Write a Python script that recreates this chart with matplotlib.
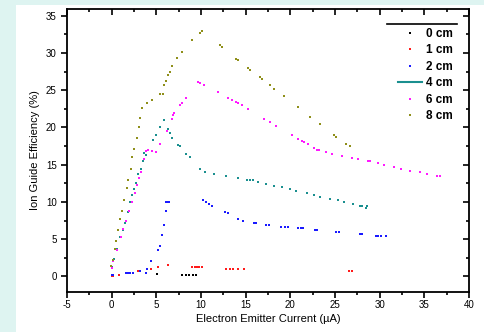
import matplotlib
matplotlib.use("Agg")
import matplotlib.pyplot as plt
from matplotlib.lines import Line2D
from matplotlib.patches import Rectangle
from matplotlib.ticker import MultipleLocator

plt.rcParams['font.family'] = ['Liberation Sans', 'DejaVu Sans']
plt.rcParams['axes.unicode_minus'] = False

# ---- data (Electron Emitter Current in uA, Ion Guide Efficiency in %) ----
labels = ["0 cm", "1 cm", "2 cm", "4 cm", "6 cm", "8 cm"]
colors = ["#000000", "#ff1a1a", "#1a1aff", "#1a8f8f", "#ff1aff", "#8f8f1a"]

x0 = [0.0, 0.15, 5.07, 7.9, 8.3, 8.7, 9.1, 9.4]
y0 = [0.1, 0.13, 0.27, 0.17, 0.17, 0.17, 0.17, 0.17]

x1 = [0.0, 0.2, 0.84, 2.98, 4.43, 5.24, 6.36, 8.96, 9.3, 9.52, 9.8, 10.08,
      12.8, 13.2, 13.6, 14.1, 14.84, 26.6, 26.85]
y1 = [0.0, 0.0, 0.23, 0.76, 1.0, 1.24, 1.47, 1.24, 1.24, 1.24, 1.24, 1.24,
      1.0, 1.0, 1.0, 1.0, 1.0, 0.76, 0.76]

x2 = [0.0, 0.15, 1.57, 1.85, 2.1, 2.42, 3.17, 3.81, 3.92, 4.37, 5.22, 5.44,
      5.67, 5.89, 6.12, 6.05, 6.25, 6.45, 10.19, 10.53, 10.9, 11.27, 12.69,
      13.06, 14.18, 14.74, 15.9, 16.2, 17.3, 17.6, 19.0, 19.35, 19.7, 20.9,
      21.2, 21.45, 22.75, 23.0, 25.15, 25.5, 27.8, 28.05, 29.55, 29.85,
      30.1, 30.71]
y2 = [0.17, 0.17, 0.5, 0.5, 0.44, 0.5, 0.71, 0.5, 1.03, 2.01, 3.48, 4.02,
      5.62, 6.92, 8.84, 10.0, 10.0, 10.0, 10.27, 9.95, 9.73, 9.46, 8.7,
      8.47, 7.7, 7.47, 7.23, 7.23, 6.96, 6.96, 6.69, 6.69, 6.69, 6.47,
      6.47, 6.47, 6.22, 6.22, 5.98, 5.98, 5.72, 5.72, 5.45, 5.45, 5.45,
      5.45]

x4 = [0.0, 0.3, 0.6, 0.97, 1.24, 1.46, 1.8, 2.09, 2.31, 2.53, 2.76, 2.98,
      3.25, 3.47, 3.65, 3.81, 4.66, 5.0, 5.44, 5.89, 6.34, 6.53, 6.79, 7.46,
      7.68, 8.36, 8.8, 9.92, 10.48, 11.49, 12.83, 14.18, 15.12, 15.5,
      15.86, 16.41, 17.33, 18.21, 19.1, 19.99, 20.66, 21.81, 22.67, 23.36,
      24.46, 25.34, 26.03, 27.05, 27.85, 28.06, 28.55, 28.47]
y4 = [1.2, 2.3, 3.7, 5.26, 6.16, 7.19, 8.6, 9.95, 10.94, 11.69, 12.49,
      13.69, 14.46, 15.53, 16.51, 16.33, 18.25, 19.01, 19.99, 20.98, 19.72,
      19.24, 18.57, 17.67, 17.47, 16.43, 15.97, 14.46, 13.96, 13.75, 13.48,
      13.21, 12.95, 12.95, 12.95, 12.69, 12.45, 12.18, 11.95, 11.71, 11.45,
      11.2, 10.95, 10.71, 10.44, 10.2, 9.95, 9.73, 9.46, 9.46, 9.46, 9.2]

x6 = [0.0, 0.18, 0.57, 1.01, 1.3, 1.6, 1.91, 2.25, 2.58, 2.8, 3.03, 3.25,
      3.65, 3.81, 4.1, 4.55, 4.93, 5.44, 6.16, 6.79, 6.87, 7.01, 7.68,
      7.91, 8.36, 9.7, 9.89, 10.37, 11.94, 13.06, 13.51, 13.95, 14.18,
      14.62, 15.3, 17.09, 17.76, 18.43, 20.22, 20.89, 21.34, 21.56, 22.01,
      22.68, 23.02, 23.25, 24.03, 24.7, 25.82, 26.94, 27.61, 28.73, 28.95,
      29.76, 30.52, 31.61, 32.39, 33.4, 34.52, 35.3, 36.39, 36.76]
y6 = [1.16, 2.05, 3.48, 5.26, 6.3, 7.5, 8.84, 10.0, 11.2, 12.28, 13.21,
      13.96, 15.76, 16.87, 16.96, 16.77, 16.64, 17.76, 19.5, 21.19, 21.69,
      21.91, 22.99, 23.25, 23.96, 26.14, 26.01, 25.74, 24.77, 23.96, 23.69,
      23.47, 23.25, 22.99, 22.45, 21.19, 20.71, 20.21, 18.97, 18.43, 18.21,
      17.98, 17.71, 17.23, 17.0, 17.0, 16.69, 16.47, 16.2, 15.93, 15.7,
      15.46, 15.46, 15.22, 14.95, 14.66, 14.46, 14.19, 13.96, 13.75, 13.48,
      13.48]

x8 = [-0.11, 0.12, 0.34, 0.52, 0.74, 0.97, 1.19, 1.41, 1.68, 1.86, 2.13,
      2.31, 2.53, 2.8, 3.03, 3.21, 3.43, 3.92, 4.55, 5.45, 5.75, 5.89,
      6.12, 6.34, 6.56, 6.79, 7.28, 7.91, 9.03, 9.89, 10.08, 12.13, 12.38,
      13.92, 14.11, 15.3, 15.52, 16.64, 16.86, 17.76, 18.21, 19.33, 20.89,
      22.2, 23.32, 24.92, 25.15, 26.23, 26.68]
y8 = [1.34, 2.14, 3.61, 4.73, 6.25, 7.72, 8.84, 10.31, 11.82, 12.95,
      14.46, 15.97, 17.1, 18.57, 20.08, 21.24, 22.66, 23.29, 23.69, 24.5,
      24.5, 25.74, 26.24, 27.0, 27.48, 28.25, 29.36, 30.16, 31.69, 32.7,
      32.93, 31.02, 30.79, 29.14, 29.01, 27.98, 27.71, 26.77, 26.51, 25.74,
      25.21, 24.23, 22.72, 21.46, 20.48, 18.97, 18.74, 17.76, 17.5]

xs = [x0, x1, x2, x4, x6, x8]
ys = [y0, y1, y2, y4, y6, y8]

x_ticks = [-5, 0, 5, 10, 15, 20, 25, 30, 35, 40]
y_ticks = [0, 5, 10, 15, 20, 25, 30, 35]

# ---- figure ----
fig = plt.figure(figsize=(4.85, 3.32), dpi=100)
fig.patch.set_facecolor("#def4f1")
fig.patches.append(Rectangle((16 / 485, 0), 1 - 16 / 485, 327 / 332,
                             transform=fig.transFigure, facecolor="white",
                             edgecolor="none", zorder=-10))
ax = fig.add_axes([67 / 485, 40 / 332, 402 / 485, 283 / 332])
ax.set_zorder(5)
ax.set_facecolor("white")

for x, y, c in zip(xs, ys, colors):
    ax.plot(x, y, linestyle="none", marker="s", markersize=1.9,
            markeredgewidth=0, color=c)

ax.set_xlim(-5, 40)
ax.set_ylim(-2.1, 35.9)
ax.set_xticks(x_ticks)
ax.set_yticks(y_ticks)
ax.xaxis.set_minor_locator(MultipleLocator(2.5))
ax.yaxis.set_minor_locator(MultipleLocator(2.5))
ax.tick_params(axis="both", which="both", labelsize=7, width=1.2)
ax.tick_params(axis="both", which="major", length=4)
ax.tick_params(axis="both", which="minor", length=2.5)
ax.tick_params(axis="x", which="both", direction="out", top=True)
ax.tick_params(axis="y", which="both", direction="out", right=True)
ax.tick_params(axis="x", which="both", pad=2)
for t in ax.xaxis.get_major_ticks() + ax.xaxis.get_minor_ticks():
    t.tick2line.set_marker(3)  # inward at top
for t in ax.yaxis.get_major_ticks() + ax.yaxis.get_minor_ticks():
    t.tick2line.set_marker(0)  # inward at right
for s in ax.spines.values():
    s.set_linewidth(1.3)

ax.set_xlabel("Electron Emitter Current (µA)", fontsize=8, labelpad=3)
ax.set_ylabel("Ion Guide Efficiency (%)", fontsize=8, labelpad=4)

# legend
handles = []
for lab, c in zip(labels, colors):
    if lab == "4 cm":
        handles.append(Line2D([], [], color=c, linewidth=1.5))
    else:
        handles.append(Line2D([], [], linestyle="none", marker="s",
                              markersize=2, markeredgewidth=0, color=c))
leg = ax.legend(handles, labels, loc="upper left",
                bbox_to_anchor=((398 - 67) / 402, (292 - 28) / 283),
                frameon=False, prop={"size": 8.5, "weight": "bold"},
                borderpad=0, borderaxespad=0,
                handlelength=2.0, handletextpad=0.4, labelspacing=0.38)
ax.plot([0.796, 0.970], [0.947, 0.947], color="black", linewidth=1.2,
        transform=ax.transAxes)

fig.savefig("out.png", dpi=100, facecolor=fig.get_facecolor())
